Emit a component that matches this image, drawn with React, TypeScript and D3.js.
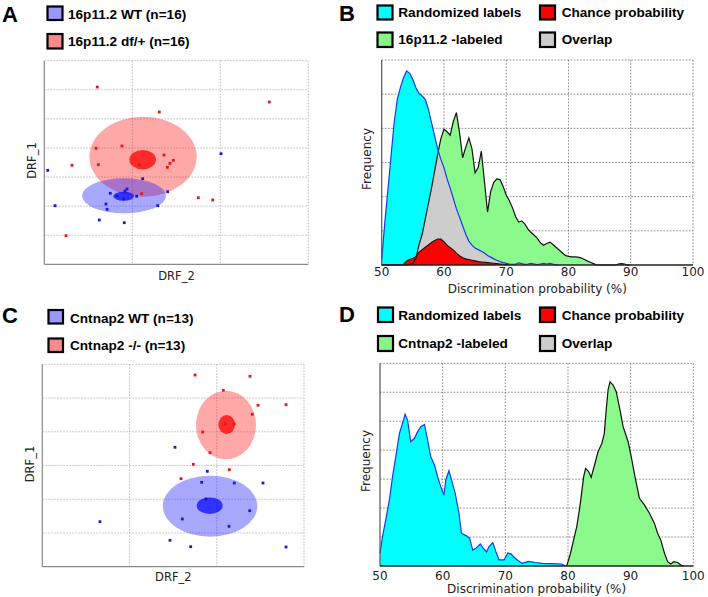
import React from 'react';
import * as d3 from 'd3';

// ---------------- Panel A (16p11.2) scatter data, in DRF units ----------------
const aWtX = [2.008, 0.039, 1.118, 0.94, 0.917, 0.75, 1.402, 1.05, 0.902, 0.122, 0.701, 1.289, 0.713, 0.625, 0.909, 0.826];
const aWtY = [3.802, 3.231, 2.943, 2.588, 2.52, 2.441, 2.496, 2.338, 2.245, 2.014, 2.073, 2.014, 1.891, 1.523, 1.43, 2.348];
const aMutX = [0.602, 2.557, 1.307, 0.883, 0.588, 1.36, 1.466, 1.428, 0.315, 0.614, 1.08, 1.398, 1.107, 1.75, 1.914, 0.247];
const aMutY = [6.095, 5.579, 5.235, 4.067, 3.988, 3.757, 3.575, 3.472, 3.403, 3.424, 3.424, 3.334, 2.427, 2.289, 2.21, 0.983];
// ellipses: cx, cy, rx, ry
const aWtEllipse = [0.906, 2.355, 0.477, 0.602];
const aWtCore = [0.902, 2.341, 0.117, 0.155];
const aMutEllipse = [1.122, 3.699, 0.61, 1.375];
const aMutCore = [1.118, 3.596, 0.151, 0.333];

// ---------------- Panel C (Cntnap2) scatter data ----------------
const cWtX = [1.521, 1.892, 1.827, 2.201, 2.53, 1.877, 2.378, 1.605, 0.661, 2.14, 1.464, 1.701, 2.794];
const cWtY = [3.54, 2.828, 2.502, 2.481, 2.481, 2.007, 1.66, 1.414, 1.334, 1.198, 0.783, 0.593, 0.584];
const cMutX = [1.751, 2.381, 2.075, 2.473, 2.794, 2.407, 2.201, 1.839, 1.923, 1.731, 2.144, 1.59, 2.098];
const cMutY = [5.683, 5.645, 5.23, 4.785, 4.803, 4.518, 4.231, 3.993, 3.38, 3.036, 2.876, 2.609, 4.231];
const cWtEllipse = [1.923, 1.794, 0.542, 0.904];
const cWtCore = [1.919, 1.808, 0.149, 0.246];
const cMutEllipse = [2.106, 4.201, 0.344, 1.017];
const cMutCore = [2.114, 4.216, 0.095, 0.282];

// ---------------- Panel B histograms ----------------
const bX = [50, 50.5, 51, 51.5, 52, 52.5, 53, 53.5, 54, 54.5,
  55, 55.5, 56, 56.5, 57, 57.5, 58, 58.5, 59, 59.5,
  60, 60.5, 61, 61.5, 62, 62.5, 63, 63.5, 64, 64.5,
  65, 65.5, 66, 66.5, 67, 67.5, 68, 68.5, 69, 69.5,
  70, 70.5, 71, 71.5, 72, 72.5, 73, 73.5, 74, 74.5,
  75, 75.5, 76, 76.5, 77, 77.5, 78, 78.5, 79, 79.5,
  80, 80.5, 81, 81.5, 82, 82.5, 83, 83.5, 84, 84.5,
  85, 85.5, 86, 86.5, 87, 87.5, 88, 88.5, 89, 89.5, 90];
const bRandom = [0.17, 1.24, 2.21, 3.19, 4.17, 4.85, 5.19, 5.48, 5.68, 5.61,
  5.43, 5.19, 5.02, 4.95, 4.85, 4.56, 4.17, 3.78, 3.39, 3.09,
  2.85, 2.52, 2.25, 1.95, 1.65, 1.4, 1.15, 0.9, 0.7, 0.58,
  0.5, 0.45, 0.4, 0.35, 0.28, 0.23, 0.18, 0.14, 0.1, 0.07,
  0.05, 0.03, 0.02, 0.03, 0.06, 0.04, 0.02, 0.03, 0.05, 0.03,
  0.01, 0.03, 0.05, 0.03, 0.05, 0.03, 0.0, 0.0];
const bLabeled = [0, 0, 0, 0, 0, 0, 0, 0, 0, 0.02,
  0.05, 0.2, 0.6, 0.9, 1.35, 1.8, 2.25, 2.75, 3.25, 3.7,
  3.97, 3.9, 3.8, 4.2, 4.46, 3.88, 3.14, 3.45, 3.72, 3.4,
  2.7, 2.85, 3.33, 2.45, 1.55, 2.15, 2.42, 2.52, 2.5, 2.3,
  2.05, 1.88, 1.68, 1.42, 1.26, 1.29, 1.2, 1.05, 0.95, 0.87,
  0.78, 0.65, 0.58, 0.63, 0.67, 0.6, 0.52, 0.44, 0.36, 0.28,
  0.25, 0.24, 0.24, 0.23, 0.21, 0.17, 0.12, 0.08, 0.04, 0,
  0, 0, 0, 0, 0, 0, 0.03, 0.04, 0.03, 0, 0];
const bChance = [0, 0, 0, 0, 0, 0, 0, 0.02, 0.12, 0.17,
  0.19, 0.25, 0.38, 0.45, 0.52, 0.59, 0.66, 0.72, 0.76, 0.76,
  0.68, 0.58, 0.51, 0.44, 0.35, 0.27, 0.21, 0.18, 0.16, 0.14,
  0.12, 0.1, 0.09, 0.08, 0.07, 0.06, 0.05, 0.04, 0.03, 0.02,
  0.01, 0];

// ---------------- Panel D histograms ----------------
const dRandomX = [50, 50.4, 51, 51.5, 52, 52.6, 53.1, 53.6, 54, 54.4, 54.9, 55.5, 56, 56.5, 57.1, 57.6, 58.1, 58.7, 59.2, 59.7,
  60.2, 60.5, 61, 61.5, 62, 62.6, 63, 63.8, 64.3, 64.8, 65.3, 66, 66.5, 67, 67.4, 68, 68.5, 69, 69.8, 70.4,
  70.9, 71.4, 71.9, 72.7, 73.7, 74.8, 75.9, 77.4, 79, 79.6];
const dRandomY = [0.44, 1.01, 1.7, 2.28, 3.08, 3.89, 4.58, 4.93, 5.24, 5.04, 4.29, 4.41, 4.64, 4.81, 4.89, 4.35, 3.77, 3.49, 3.08, 2.74,
  2.45, 2.97, 3.29, 2.91, 2.51, 1.82, 1.13, 1.04, 0.96, 0.55, 0.61, 0.76, 0.61, 0.49, 0.67, 0.81, 0.49, 0.21, 0.21, 0.45,
  0.42, 0.3, 0.21, 0.09, 0.16, 0.12, 0.09, 0.08, 0.07, 0];
const dLabeledX = [79.8, 80.4, 80.9, 81.4, 81.9, 82.5, 82.8, 83.3, 83.7, 84.3, 84.8, 85.4, 85.8, 86.1, 86.4, 86.7, 87.2, 87.7, 88.3, 88.8,
  89.6, 90.1, 90.7, 91.4, 92.2, 93, 93.8, 94.3, 94.8, 95.4, 95.9, 96.4, 96.9, 97.5, 98.1, 98.5];
const dLabeledY = [0, 0.44, 0.9, 1.36, 2.05, 3.08, 3.37, 3.26, 3.06, 3.54, 3.95, 4.23, 4.58, 5.39, 6.08, 6.36, 6.25, 6.02, 5.39, 4.81,
  4.29, 3.77, 3.08, 2.34, 2.11, 1.82, 1.47, 1.13, 0.9, 0.44, 0.15, 0.07, 0.15, 0.12, 0.02, 0];

const probTicks = [50, 60, 70, 80, 90, 100];

const sans = "'Liberation Sans', Arial, Helvetica, sans-serif";
const deja = "'DejaVu Sans', Verdana, sans-serif";

type Pt = [number, number];
const zip = (xs: number[], ys: number[]): Pt[] => ys.map((v, i) => [xs[i], v]);

function LegendBox({ x, y, w, h, fill }: { x: number; y: number; w: number; h: number; fill: string }) {
  return <rect x={x} y={y} width={w} height={h} fill={fill} stroke="#000" strokeWidth={2.2} />;
}

function Scatter(props: {
  xr: [number, number]; yr: [number, number]; xd: [number, number]; yd: [number, number];
  xGrid: number[]; yGrid: number[];
  wtX: number[]; wtY: number[]; mutX: number[]; mutY: number[];
  wtE: number[]; wtC: number[]; mutE: number[]; mutC: number[];
  yLab: [number, number]; xLab: [number, number];
}) {
  const x = d3.scaleLinear().domain(props.xd).range(props.xr);
  const y = d3.scaleLinear().domain(props.yd).range(props.yr);
  const [l, r] = props.xr;
  const [b, t] = props.yr;
  const ell = (e: number[], fill: string, op: number) => (
    <ellipse cx={x(e[0])} cy={y(e[1])} rx={Math.abs(x(e[0] + e[2]) - x(e[0]))} ry={Math.abs(y(e[1] + e[3]) - y(e[1]))} fill={fill} fillOpacity={op} />
  );
  return (
    <g>
      {props.xGrid.map((g) => (
        <line key={'vx' + g} x1={x(g)} x2={x(g)} y1={t} y2={b} stroke="#a8a8a8" strokeWidth={0.8} strokeDasharray="1.5,1.5" />
      ))}
      {props.yGrid.map((g) => (
        <line key={'hy' + g} x1={l} x2={r} y1={y(g)} y2={y(g)} stroke="#a8a8a8" strokeWidth={0.8} strokeDasharray="1.5,1.5" />
      ))}
      <line x1={l} x2={r} y1={t} y2={t} stroke="#a8a8a8" strokeWidth={0.8} strokeDasharray="1.5,1.5" />
      <line x1={r} x2={r} y1={t} y2={b} stroke="#a8a8a8" strokeWidth={0.8} strokeDasharray="1.5,1.5" />
      {ell(props.mutE, '#ff1a1a', 0.38)}
      {ell(props.wtE, '#1a1aff', 0.38)}
      {ell(props.mutC, '#ff0000', 0.75)}
      {ell(props.wtC, '#0000ff', 0.7)}
      {props.mutY.map((v, i) => (
        <rect key={'m' + i} x={x(props.mutX[i]) - 1.4} y={y(v) - 1.4} width={2.8} height={2.8} fill="#e01818" />
      ))}
      {props.wtY.map((v, i) => (
        <rect key={'w' + i} x={x(props.wtX[i]) - 1.4} y={y(v) - 1.4} width={2.8} height={2.8} fill="#1818d8" />
      ))}
      <line x1={l} x2={l} y1={t} y2={b} stroke="#8a8a8a" strokeWidth={1.2} />
      <line x1={l} x2={r} y1={b} y2={b} stroke="#8a8a8a" strokeWidth={1.2} />
      <text transform={`translate(${props.yLab[0]},${props.yLab[1]}) rotate(-90)`} textAnchor="middle" fontFamily={deja} fontSize={11.5} fill="#222">DRF_1</text>
      <text x={props.xLab[0]} y={props.xLab[1]} textAnchor="middle" fontFamily={deja} fontSize={11.5} fill="#222">DRF_2</text>
    </g>
  );
}

function Histogram(props: {
  xr: [number, number]; yr: [number, number]; yMax: number;
  random: Pt[]; labeled: Pt[]; overlap: Pt[]; chance: Pt[];
  tickY: number; titleY: number; freq: [number, number];
}) {
  const x = d3.scaleLinear().domain([50, 100]).range(props.xr);
  const y = d3.scaleLinear().domain([0, props.yMax]).range(props.yr);
  const [l, r] = props.xr;
  const [b, t] = props.yr;
  const area = d3.area<Pt>().x((d) => x(d[0])).y0(y(0)).y1((d) => y(d[1]));
  const line = d3.line<Pt>().x((d) => x(d[0])).y((d) => y(d[1]));
  const yGrid = d3.range(1, props.yMax);
  const grid = { stroke: '#6a6a6a', strokeWidth: 0.8, strokeDasharray: '1.6,1.6' };
  return (
    <g>
      {probTicks.slice(1, -1).map((g) => (
        <line key={'gx' + g} x1={x(g)} x2={x(g)} y1={t} y2={b} {...grid} />
      ))}
      {yGrid.map((g) => (
        <line key={'gy' + g} x1={l} x2={r} y1={y(g)} y2={y(g)} {...grid} />
      ))}
      <line x1={l} x2={r} y1={t} y2={t} {...grid} />
      <line x1={r} x2={r} y1={t} y2={b} {...grid} />
      <path d={area(props.random) || ''} fill="#00ffff" />
      <path d={area(props.labeled) || ''} fill="#8cf98c" />
      {props.overlap.length > 0 && <path d={area(props.overlap) || ''} fill="#cdcdcd" />}
      {props.chance.length > 0 && <path d={area(props.chance) || ''} fill="#ff0000" />}
      <path d={line(props.labeled) || ''} fill="none" stroke="#111" strokeWidth={1.2} />
      <path d={line(props.random) || ''} fill="none" stroke="#1a38e6" strokeWidth={1.2} />
      {props.chance.length > 0 && <path d={line(props.chance) || ''} fill="none" stroke="#111" strokeWidth={1.1} />}
      <line x1={l} x2={l} y1={t} y2={b} stroke="#555" strokeWidth={1.2} />
      <line x1={l} x2={r} y1={b} y2={b} stroke="#222" strokeWidth={1.4} />
      {probTicks.map((tk) => (
        <text key={'t' + tk} x={x(tk)} y={props.tickY} textAnchor="middle" fontFamily={deja} fontSize={12} fill="#222">{tk}</text>
      ))}
      <text x={(l + r) / 2} y={props.titleY} textAnchor="middle" fontFamily={deja} fontSize={12} fill="#222">Discrimination probability (%)</text>
      <text transform={`translate(${props.freq[0]},${props.freq[1]}) rotate(-90)`} textAnchor="middle" fontFamily={deja} fontSize={12} fill="#222">Frequency</text>
    </g>
  );
}

export default function App() {
  const bRandPts = zip(bX, bRandom);
  const bLabPts = zip(bX, bLabeled);
  const bOverlap: Pt[] = bRandom.map((v, i) => [bX[i], Math.min(v, bLabeled[i])]);
  const bChancePts = zip(bX, bChance);
  const dRandPts = zip(dRandomX, dRandomY);
  const dLabPts = zip(dLabeledX, dLabeledY);

  const legT = { fontFamily: sans, fontSize: 13.6, fontWeight: 700, fill: '#000' } as const;
  const letter = { fontFamily: sans, fontSize: 22, fontWeight: 700, fill: '#000' } as const;

  return (
    <svg width={708} height={597} style={{ position: 'absolute', left: 0, top: 0, background: '#fff' }}>
      <rect width={708} height={597} fill="#fff" />

      {/* Panel A */}
      <text x={2} y={22} {...letter}>A</text>
      <LegendBox x={47.5} y={6.5} w={15} h={13.5} fill="#9898ff" />
      <text x={68} y={18.5} {...legT}>16p11.2 WT (n=16)</text>
      <LegendBox x={47.5} y={34} w={15} h={14.5} fill="#f88a8a" />
      <text x={68} y={45.8} {...legT}>16p11.2 df/+ (n=16)</text>
      <Scatter xr={[44.3, 308.3]} yr={[264.3, 60.7]} xd={[0, 3]} yd={[0, 7]} xGrid={[1, 2]} yGrid={[1, 2, 3, 4, 5, 6]}
        wtX={aWtX} wtY={aWtY} mutX={aMutX} mutY={aMutY}
        wtE={aWtEllipse} wtC={aWtCore} mutE={aMutEllipse} mutC={aMutCore}
        yLab={[35.5, 160.5]} xLab={[176.5, 280]} />

      {/* Panel C */}
      <text x={2} y={322.7} {...letter}>C</text>
      <LegendBox x={48.5} y={310} w={14.5} h={13.5} fill="#9898ff" />
      <text x={70} y={322.5} {...legT}>Cntnap2 WT (n=13)</text>
      <LegendBox x={48.5} y={338.5} w={14.5} h={13.5} fill="#f88a8a" />
      <text x={70} y={350} {...legT}>Cntnap2 -/- (n=13)</text>
      <Scatter xr={[42.3, 304]} yr={[566.7, 364.3]} xd={[0, 3]} yd={[0, 6]} xGrid={[1, 2]} yGrid={[1, 2, 3, 4, 5]}
        wtX={cWtX} wtY={cWtY} mutX={cMutX} mutY={cMutY}
        wtE={cWtEllipse} wtC={cWtCore} mutE={cMutEllipse} mutC={cMutCore}
        yLab={[33.5, 464]} xLab={[173.3, 581]} />

      {/* Panel B */}
      <text x={339} y={20.7} {...letter}>B</text>
      <LegendBox x={377.5} y={5.5} w={15} h={14} fill="#00ffff" />
      <text x={398.3} y={17} {...legT}>Randomized labels</text>
      <LegendBox x={540} y={5.5} w={15} h={14} fill="#ff0000" />
      <text x={561.7} y={17} {...legT}>Chance probability</text>
      <LegendBox x={377.5} y={32.5} w={15} h={14.5} fill="#88f488" />
      <text x={398.3} y={44.3} {...legT}>16p11.2 -labeled</text>
      <LegendBox x={540} y={32.5} w={15} h={14.5} fill="#cccccc" />
      <text x={561.7} y={44.3} {...legT}>Overlap</text>
      <Histogram xr={[381.7, 693]} yr={[265, 60]} yMax={6}
        random={bRandPts} labeled={bLabPts} overlap={bOverlap} chance={bChancePts}
        tickY={275.5} titleY={292.5} freq={[370.5, 159]} />

      {/* Panel D */}
      <text x={339} y={321.7} {...letter}>D</text>
      <LegendBox x={378} y={307.5} w={15} h={14.5} fill="#00ffff" />
      <text x={398.3} y={320} {...legT}>Randomized labels</text>
      <LegendBox x={540} y={307.5} w={15} h={14.5} fill="#ff0000" />
      <text x={561.7} y={320} {...legT}>Chance probability</text>
      <LegendBox x={378} y={336} w={15} h={15} fill="#88f488" />
      <text x={398.3} y={348.3} {...legT}>Cntnap2 -labeled</text>
      <LegendBox x={540} y={336} w={15} h={15} fill="#cccccc" />
      <text x={561.7} y={348.3} {...legT}>Overlap</text>
      <Histogram xr={[380, 693.3]} yr={[566, 363.3]} yMax={7}
        random={dRandPts} labeled={dLabPts} overlap={[]} chance={[]}
        tickY={580} titleY={593.3} freq={[369.5, 461]} />
    </svg>
  );
}
